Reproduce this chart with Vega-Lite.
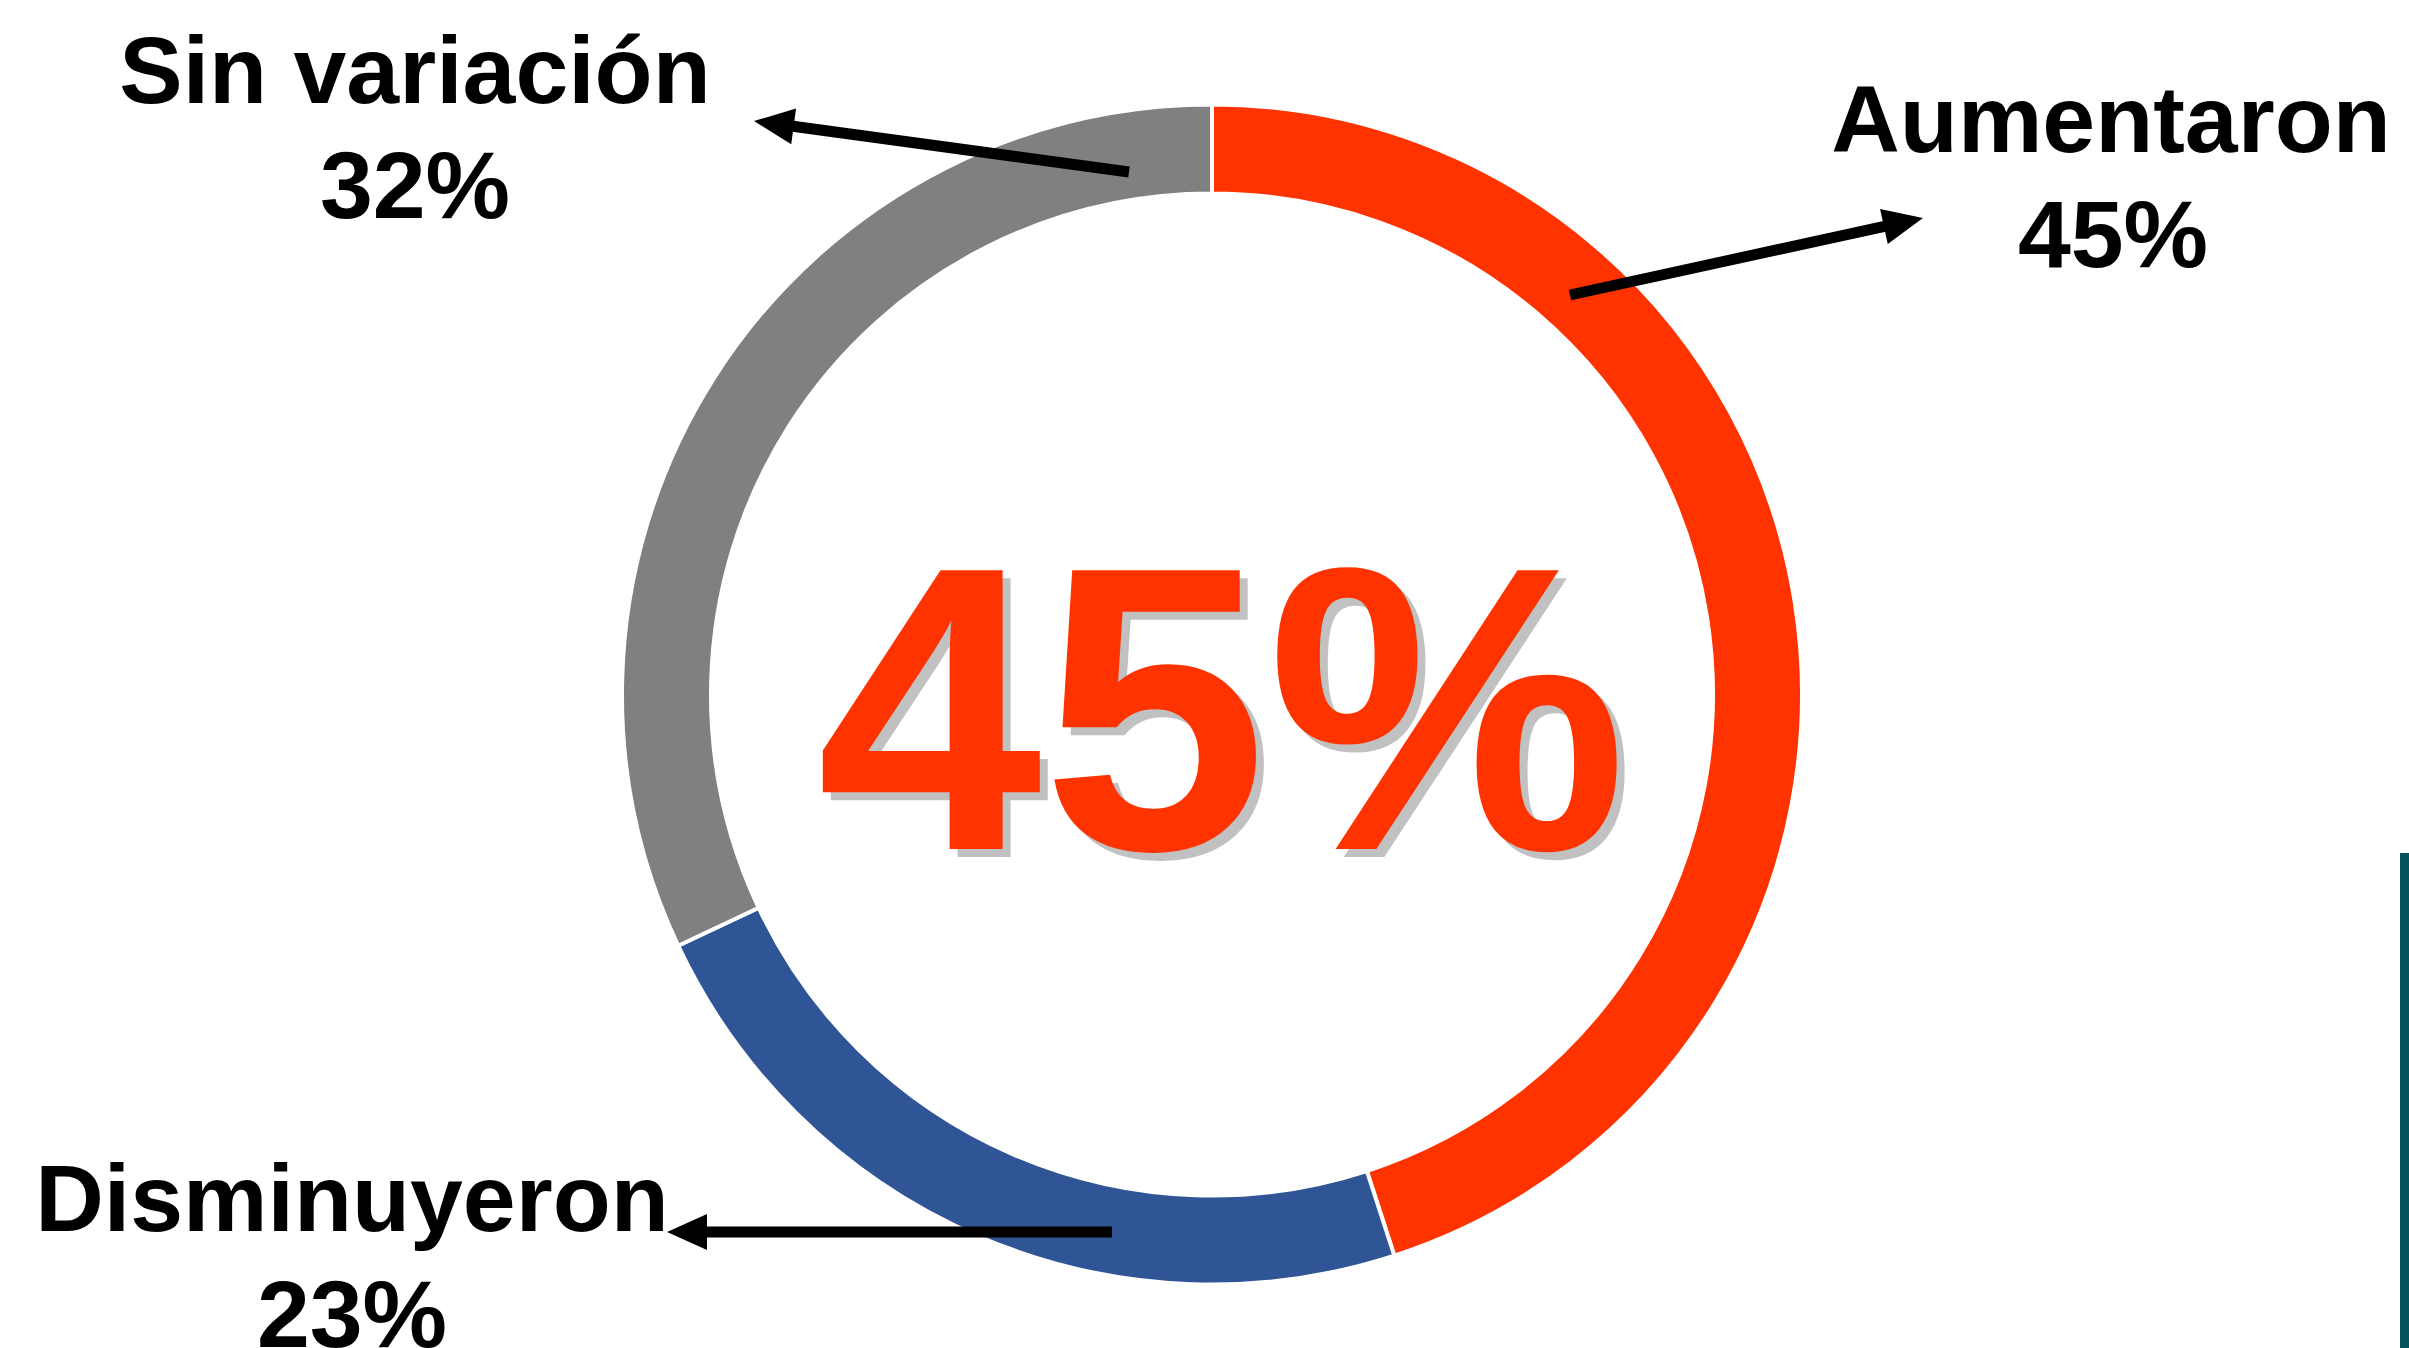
{
  "$schema": "https://vega.github.io/schema/vega-lite/v6.json",
  "width": 2394,
  "height": 1307,
  "padding": {"left": 15, "top": 41, "right": 0, "bottom": 0},
  "autosize": {"type": "none"},
  "background": "#ffffff",
  "config": {"view": {"stroke": null}},
  "datasets": {
    "slices": [
      {"cat": "Aumentaron", "value": 45, "order": 1},
      {"cat": "Disminuyeron", "value": 23, "order": 2},
      {"cat": "Sin variación", "value": 32, "order": 3}
    ],
    "labels": [
      {"text": "Sin variación", "x": -797, "y": 591.5},
      {"text": "32%", "x": -797, "y": 476.5},
      {"text": "Aumentaron", "x": 899, "y": 542.5},
      {"text": "45%", "x": 901, "y": 427.5},
      {"text": "Disminuyeron", "x": -860, "y": -536.5},
      {"text": "23%", "x": -860, "y": -652.5}
    ],
    "arrows": [
      {"cat": "Sin variación", "x": -83, "y": 522.5, "x2": -428.3, "y2": 569.5, "tx": -458, "ty": 573.5, "ang": -82.3},
      {"cat": "Aumentaron", "x": 358, "y": 399.5, "x2": 681.7, "y2": 470.1, "tx": 711, "ty": 476.5, "ang": 77.7},
      {"cat": "Disminuyeron", "x": -100, "y": -537.5, "x2": -515, "y2": -537.5, "tx": -545, "ty": -537.5, "ang": -90}
    ],
    "center": [
      {"text": "45%", "x": 10, "y": -154.5}
    ],
    "bar": [
      {"x": 1188, "x2": 1200, "y": -158.5, "y2": -660}
    ]
  },
  "layer": [
    {
      "data": {"name": "slices"},
      "mark": {"type": "arc", "innerRadius": 501, "outerRadius": 590, "stroke": "#ffffff", "strokeWidth": 4},
      "encoding": {
        "theta": {"field": "value", "type": "quantitative", "stack": true},
        "order": {"field": "order", "type": "quantitative"},
        "color": {
          "field": "cat", "type": "nominal", "legend": null,
          "scale": {"domain": ["Aumentaron", "Disminuyeron", "Sin variación"], "range": ["#FF3300", "#2F5597", "#808080"]}
        }
      }
    },
    {
      "data": {"name": "bar"},
      "mark": {"type": "rect", "color": "#02515B"},
      "encoding": {
        "x": {"field": "x", "type": "quantitative", "axis": null, "scale": {"domain": [-1197, 1197], "nice": false, "zero": false}},
        "x2": {"field": "x2"},
        "y": {"field": "y", "type": "quantitative", "axis": null, "scale": {"domain": [-653.5, 653.5], "nice": false, "zero": false}},
        "y2": {"field": "y2"}
      }
    },
    {
      "data": {"name": "arrows"},
      "mark": {"type": "rule", "color": "#000000", "strokeWidth": 11, "strokeCap": "butt"},
      "encoding": {
        "x": {"field": "x", "type": "quantitative", "axis": null, "scale": {"domain": [-1197, 1197], "nice": false, "zero": false}},
        "y": {"field": "y", "type": "quantitative", "axis": null, "scale": {"domain": [-653.5, 653.5], "nice": false, "zero": false}},
        "x2": {"field": "x2"},
        "y2": {"field": "y2"}
      }
    },
    {
      "data": {"name": "arrows"},
      "mark": {"type": "point", "shape": "M0,0L-0.9,2L0.9,2Z", "filled": true, "color": "#000000", "opacity": 1, "size": 1600, "strokeWidth": 0},
      "encoding": {
        "x": {"field": "tx", "type": "quantitative", "axis": null, "scale": {"domain": [-1197, 1197], "nice": false, "zero": false}},
        "y": {"field": "ty", "type": "quantitative", "axis": null, "scale": {"domain": [-653.5, 653.5], "nice": false, "zero": false}},
        "angle": {"field": "ang", "type": "quantitative", "scale": null}
      }
    },
    {
      "data": {"name": "labels"},
      "mark": {"type": "text", "font": "Liberation Sans", "fontWeight": "bold", "fontSize": 95, "align": "center", "baseline": "alphabetic", "color": "#000000"},
      "encoding": {
        "x": {"field": "x", "type": "quantitative", "axis": null, "scale": {"domain": [-1197, 1197], "nice": false, "zero": false}},
        "y": {"field": "y", "type": "quantitative", "axis": null, "scale": {"domain": [-653.5, 653.5], "nice": false, "zero": false}},
        "text": {"field": "text", "type": "nominal"}
      }
    },
    {
      "data": {"name": "center"},
      "mark": {"type": "text", "font": "Liberation Sans", "fontWeight": "bold", "fontSize": 405, "align": "center", "baseline": "alphabetic", "color": "#999999", "opacity": 0.6, "dx": 8, "dy": 8},
      "encoding": {
        "x": {"field": "x", "type": "quantitative", "axis": null, "scale": {"domain": [-1197, 1197], "nice": false, "zero": false}},
        "y": {"field": "y", "type": "quantitative", "axis": null, "scale": {"domain": [-653.5, 653.5], "nice": false, "zero": false}},
        "text": {"field": "text", "type": "nominal"}
      }
    },
    {
      "data": {"name": "center"},
      "mark": {"type": "text", "font": "Liberation Sans", "fontWeight": "bold", "fontSize": 405, "align": "center", "baseline": "alphabetic", "color": "#FF3300"},
      "encoding": {
        "x": {"field": "x", "type": "quantitative", "axis": null, "scale": {"domain": [-1197, 1197], "nice": false, "zero": false}},
        "y": {"field": "y", "type": "quantitative", "axis": null, "scale": {"domain": [-653.5, 653.5], "nice": false, "zero": false}},
        "text": {"field": "text", "type": "nominal"}
      }
    }
  ]
}
